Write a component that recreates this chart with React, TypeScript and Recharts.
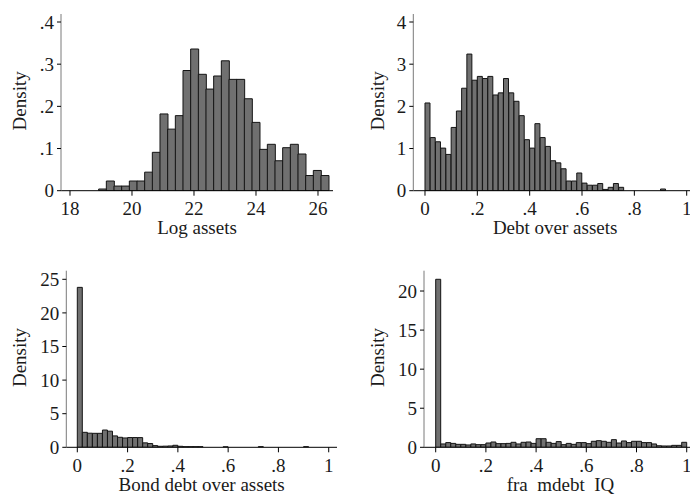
import { Bar, BarChart, XAxis, YAxis } from "recharts";

const FONT = "'Liberation Serif', 'Times New Roman', serif";
const FS = 19;
const INK = "#1a1a1a";

// histogram densities (one value per bin)
const logAssetsStart = 18.925;
const logAssetsWidth = 0.2473;
const logAssetsDensity = [
  0.004, 0.023, 0.011, 0.011, 0.023, 0.023, 0.044, 0.091, 0.182, 0.146,
  0.178, 0.285, 0.336, 0.276, 0.241, 0.272, 0.308, 0.264, 0.264, 0.218,
  0.162, 0.098, 0.11, 0.071, 0.102, 0.11, 0.087, 0.036, 0.048, 0.036,
];

const debtStart = 0;
const debtWidth = 0.02;
const debtDensity = [
  2.08, 1.26, 1.16, 1.01, 0.86, 1.5, 1.89, 2.43, 3.24, 2.62,
  2.71, 2.66, 2.71, 2.27, 2.32, 2.66, 2.32, 2.12, 1.78, 1.21,
  1.01, 1.59, 1.26, 1.05, 0.71, 0.66, 0.52, 0.23, 0.23, 0.42,
  0.18, 0.13, 0.13, 0.17, 0.03, 0.08, 0.17, 0.08, 0, 0,
  0, 0, 0, 0, 0, 0.04,
];

const bondStart = 0;
const bondWidth = 0.02;
const bondDensity = [
  23.8, 2.23, 2.1, 2.08, 2.08, 2.57, 2.4, 1.7, 1.49, 1.39,
  1.45, 1.45, 1.44, 0.66, 0.56, 0.25, 0.15, 0.17, 0.2, 0.3,
  0.15, 0.1, 0.1, 0.1, 0.1, 0, 0, 0, 0, 0.08,
  0, 0, 0, 0, 0, 0, 0.1, 0, 0, 0,
  0, 0, 0, 0, 0, 0.1,
];

const fraStart = 0;
const fraWidth = 0.02;
const fraDensity = [
  21.5, 0.43, 0.6, 0.5, 0.38, 0.38, 0.3, 0.43, 0.34, 0.34,
  0.55, 0.68, 0.47, 0.47, 0.5, 0.64, 0.43, 0.64, 0.68, 0.5,
  1.1, 1.1, 0.64, 0.5, 0.73, 0.34, 0.5, 0.38, 0.6, 0.6,
  0.47, 0.77, 0.85, 0.77, 0.64, 0.98, 0.55, 0.81, 0.6, 0.77,
  0.77, 0.6, 0.6, 0.43, 0.2, 0.17, 0.17, 0.25, 0.25, 0.64,
];

const logAssetsTicks = [18, 20, 22, 24, 26];
const logAssetsYTicks = [0, 0.1, 0.2, 0.3, 0.4];
const shareTicks = [0, 0.2, 0.4, 0.6, 0.8, 1];
const debtYTicks = [0, 1, 2, 3, 4];
const bondYTicks = [0, 5, 10, 15, 20, 25];
const fraYTicks = [0, 5, 10, 15, 20];

const toBins = (start: number, width: number, dens: number[]) =>
  dens.map((d, i) => ({ x: start + (i + 0.5) * width, d }));

const fmt = (v: number) => (v > 0 && v < 1 ? String(v).slice(1) : String(v));

type PanelProps = {
  data: { x: number; d: number }[];
  left: number;
  top: number;
  width: number;
  height: number;
  axisX: number; // y axis position inside panel
  plotTop: number;
  baseline: number;
  plotRight: number;
  xDomain: [number, number];
  yDomain: [number, number];
  xTicks: number[];
  yTicks: number[];
  xTitle: string;
  yTitleGap: number;
};

function Panel(p: PanelProps) {
  const tickStyle = { fontFamily: FONT, fontSize: FS, fill: INK };
  return (
    <div style={{ position: "absolute", left: p.left, top: p.top }}>
      <BarChart
        width={p.width}
        height={p.height}
        data={p.data}
        margin={{ top: p.plotTop, right: p.width - p.plotRight, left: 0, bottom: 0 }}
        barCategoryGap={0}
        barGap={0}
      >
        <XAxis
          type="number"
          dataKey="x"
          domain={p.xDomain}
          allowDataOverflow
          ticks={p.xTicks}
          interval={0}
          tickFormatter={fmt}
          height={p.height - p.baseline}
          tickSize={5}
          tickMargin={6}
          tick={tickStyle}
          axisLine={{ stroke: "#000", strokeWidth: 1 }}
          tickLine={{ stroke: "#000" }}
          label={(lp: any) => {
            const vb = lp.viewBox || {};
            return (
              <text
                x={vb.x + vb.width / 2}
                y={vb.y + 43.4}
                textAnchor="middle"
                style={{ fontFamily: FONT, fontSize: FS, fill: INK, whiteSpace: "pre" }}
              >
                {p.xTitle}
              </text>
            );
          }}
        />
        <YAxis
          type="number"
          domain={p.yDomain}
          allowDataOverflow
          ticks={p.yTicks}
          interval={0}
          tickFormatter={fmt}
          width={p.axisX}
          tickSize={4}
          tickMargin={3}
          tick={tickStyle}
          axisLine={{ stroke: "#7a7a7a", strokeWidth: 1 }}
          tickLine={{ stroke: "#000" }}
          label={(lp: any) => {
            const vb = lp.viewBox || {};
            const x = vb.x + vb.width - p.yTitleGap;
            const y = vb.y + vb.height / 2 - 1.5;
            return (
              <text
                x={x}
                y={y}
                textAnchor="middle"
                transform={`rotate(-90, ${x}, ${y})`}
                style={{ fontFamily: FONT, fontSize: FS, fill: INK }}
              >
                Density
              </text>
            );
          }}
        />
        <Bar dataKey="d" fill="#707070" stroke="#141414" strokeWidth={1} isAnimationActive={false} />
      </BarChart>
    </div>
  );
}

export default function App() {
  return (
    <div
      style={{
        position: "absolute",
        left: 0,
        top: 0,
        width: 690,
        height: 495,
        overflow: "hidden",
        background: "#fff",
      }}
    >
      <Panel
        data={toBins(logAssetsStart, logAssetsWidth, logAssetsDensity)}
        left={0}
        top={0}
        width={345}
        height={250}
        axisX={61}
        plotTop={14}
        baseline={190.7}
        plotRight={333}
        xDomain={[17.71, 26.484]}
        yDomain={[0, 0.419]}
        xTicks={logAssetsTicks}
        yTicks={logAssetsYTicks}
        xTitle="Log assets"
        yTitleGap={35}
      />
      <Panel
        data={toBins(debtStart, debtWidth, debtDensity)}
        left={345}
        top={0}
        width={355}
        height={250}
        axisX={68.3}
        plotTop={14}
        baseline={190.7}
        plotRight={352}
        xDomain={[-0.0447, 1.0394]}
        yDomain={[0, 4.19]}
        xTicks={shareTicks}
        yTicks={debtYTicks}
        xTitle="Debt over assets"
        yTitleGap={29.7}
      />
      <Panel
        data={toBins(bondStart, bondWidth, bondDensity)}
        left={0}
        top={250}
        width={345}
        height={245}
        axisX={66.3}
        plotTop={20.7}
        baseline={197.3}
        plotRight={337}
        xDomain={[-0.0438, 1.033]}
        yDomain={[0, 26.28]}
        xTicks={shareTicks}
        yTicks={bondYTicks}
        xTitle="Bond debt over assets"
        yTitleGap={40.3}
      />
      <Panel
        data={toBins(fraStart, fraWidth, fraDensity)}
        left={345}
        top={250}
        width={355}
        height={245}
        axisX={79}
        plotTop={20.7}
        baseline={197.3}
        plotRight={352}
        xDomain={[-0.0466, 1.041]}
        yDomain={[0, 22.6]}
        xTicks={shareTicks}
        yTicks={fraYTicks}
        xTitle="fra  mdebt  IQ"
        yTitleGap={40.4}
      />
    </div>
  );
}
